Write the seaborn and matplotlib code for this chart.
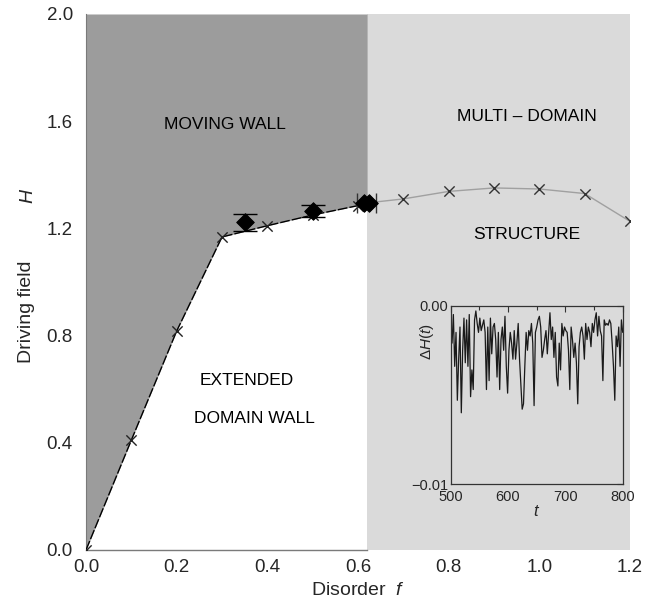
import numpy as np
import pandas as pd
import matplotlib
matplotlib.use("Agg")
import matplotlib.pyplot as plt
import seaborn as sns

# ---------------- data ----------------
f_boundary = 0.62
f_wall = [0.0, 0.1, 0.2, 0.3, 0.4, 0.5, 0.6, 0.62]
H_wall = [0.0, 0.41, 0.817, 1.168, 1.21, 1.25, 1.285, 1.295]
f_cross_wall = [0.0, 0.1, 0.2, 0.3, 0.4, 0.5, 0.6]
H_cross_wall = [0.0, 0.41, 0.817, 1.168, 1.21, 1.25, 1.285]

f_multi = [0.62, 0.7, 0.8, 0.9, 1.0, 1.1, 1.2]
H_multi = [1.295, 1.31, 1.338, 1.351, 1.347, 1.330, 1.226]

f_diam = [0.35, 0.5, 0.613, 0.625]
H_diam = [1.222, 1.265, 1.295, 1.295]
f_yerr = [0.35, 0.5]
H_yerr = [1.222, 1.265]
yerr = [0.033, 0.021]
f_xerr = [0.619]
H_xerr = [1.295]
xerr = [0.021]

x_ticks = [0.0, 0.2, 0.4, 0.6, 0.8, 1.0, 1.2]
y_ticks = [0.0, 0.4, 0.8, 1.2, 1.6, 2.0]

# inset time series (units of 1e-3)
dH_milli = [
    -0.6, -2.1, -0.5, -3.4, -1.5, -5.3, -3.0, -1.2, -6.0, -2.5, -0.7, -3.2, -0.8,
    -3.4, -0.5, -5.1, -3.6, -4.7, -0.8, -0.3, -1.0, -1.5, -0.7, -1.4, -1.1, -0.8,
    -1.5, -4.7, -1.2, -4.2, -0.7, -2.7, -1.2, -1.0, -1.9, -4.0, -1.5, -4.7, -1.9,
    -1.2, -2.5, -0.6, -3.4, -4.9, -2.5, -1.5, -2.1, -3.0, -1.4, -3.0, -2.1, -1.0,
    -3.0, -4.4, -5.8, -5.5, -3.4, -1.5, -2.5, -1.4, -1.7, -1.0, -2.1, -5.6, -1.5,
    -1.2,
    -0.8, -0.6, -1.2, -2.9, -2.5, -1.9, -1.4, -2.7, -1.5, -0.4, -1.9, -1.2, -2.9,
    -1.5, -4.0, -4.5, -2.1, -3.6, -1.0, -1.7, -1.2, -1.4, -1.5, -2.5, -4.7, -1.2,
    -1.9, -2.9, -2.1, -3.2, -5.5, -2.3, -1.5, -1.2, -1.7, -3.0, -1.0, -1.9, -1.2,
    -1.5, -2.3, -1.0, -1.5, -0.8, -0.4, -1.7, -0.6, -1.4, -1.7, -4.2, -0.8, -1.1,
    -1.0, -1.1, -0.8, -1.0, -2.1, -3.4, -5.3, -1.7, -2.3, -1.2, -3.4, -0.8, -1.5,
]
t_start, t_end = 500, 800
t_inset = np.linspace(t_start, t_end, len(dH_milli))
dH = np.array(dH_milli) * 1e-3

# ---------------- style ----------------
sns.set_style("white")
plt.rcParams["font.family"] = ["Liberation Sans", "DejaVu Sans"]
plt.rcParams["mathtext.fontset"] = "custom"
plt.rcParams["mathtext.it"] = "Liberation Sans:italic"
plt.rcParams["mathtext.rm"] = "Liberation Sans"

dark = "#9c9c9c"
light = "#dadada"

fig = plt.figure(figsize=(6.52, 6.03), dpi=100)
ax = fig.add_axes([0.1319, 0.0879, 0.8344, 0.8889])

# regions
ax.axvspan(f_boundary, 1.2, color=light, lw=0, zorder=0)
ax.fill_between(f_wall, H_wall, 2.0, color=dark, lw=0, zorder=0)

# boundary lines
df_wall = pd.DataFrame({"f": f_wall, "H": H_wall})
sns.lineplot(data=df_wall, x="f", y="H", ax=ax, color="black", lw=1.0,
             sort=False, zorder=3)
ax.lines[-1].set_dashes([7, 1.5])
df_multi = pd.DataFrame({"f": f_multi, "H": H_multi})
sns.lineplot(data=df_multi, x="f", y="H", ax=ax, color="#a0a0a0", lw=1.0,
             sort=False, zorder=3)

# crosses
df_cw = pd.DataFrame({"f": f_cross_wall, "H": H_cross_wall})
sns.scatterplot(data=df_cw, x="f", y="H", ax=ax, marker="x", s=55,
                color="#222222", linewidth=1.0, zorder=4)
df_cm = pd.DataFrame({"f": f_multi[1:], "H": H_multi[1:]})
sns.scatterplot(data=df_cm, x="f", y="H", ax=ax, marker="x", s=55,
                color="#333333", linewidth=1.0, zorder=4)

# diamonds with error bars
ax.errorbar(f_yerr, H_yerr, yerr=yerr, fmt="none", ecolor="black",
            elinewidth=1.0, capsize=8.3, capthick=1.0, zorder=5)
ax.errorbar(f_xerr, H_xerr, xerr=xerr, fmt="none", ecolor="#333333",
            elinewidth=1.0, capsize=7.5, capthick=1.0, zorder=5)
df_d = pd.DataFrame({"f": f_diam, "H": H_diam})
sns.scatterplot(data=df_d, x="f", y="H", ax=ax, marker="D", s=80,
                color="black", edgecolor="black", zorder=6)

# axes formatting
ax.set_xlim(0, 1.2)
ax.set_ylim(0, 2.0)
ax.set_xticks(x_ticks)
ax.set_yticks(y_ticks)
ax.set_xticklabels([f"{v:.1f}" for v in x_ticks], fontsize=13.5)
ax.set_yticklabels([f"{v:.1f}" for v in y_ticks], fontsize=13.5)
ax.tick_params(axis="x", length=0, pad=6.5)
ax.tick_params(axis="y", length=0, pad=9.5)
ax.set_xlabel(r"Disorder  $f$", fontsize=14, labelpad=4)
ax.set_ylabel("Driving field", fontsize=14)
ax.yaxis.set_label_coords(-0.093, 0.445)
ax.text(-0.106, 0.66, "H", transform=ax.transAxes, rotation=90,
        fontsize=14, style="italic", ha="center", va="center")
for s in ["top", "right"]:
    ax.spines[s].set_visible(False)
ax.spines["left"].set_color("#7a7a7a")
ax.spines["bottom"].set_color("#7a7a7a")
ax.spines["bottom"].set_bounds(0, f_boundary)
ax.spines["left"].set_linewidth(0.8)
ax.spines["bottom"].set_linewidth(1.0)

# region labels
kw = dict(ha="center", va="center", fontsize=12.5, color="black")
ax.text(0.3055, 1.586, "MOVING WALL", **kw)
ax.text(0.973, 1.617, "MULTI – DOMAIN", **kw)
ax.text(0.973, 1.179, "STRUCTURE", **kw)
ax.text(0.355, 0.634, "EXTENDED", **kw)
ax.text(0.371, 0.4925, "DOMAIN WALL", **kw)

# ---------------- inset ----------------
axi = fig.add_axes([0.6913, 0.1970, 0.2638, 0.2962])
axi.set_facecolor(light)
df_in = pd.DataFrame({"t": t_inset, "dH": dH})
sns.lineplot(data=df_in, x="t", y="dH", ax=axi, color="#1a1a1a", lw=0.9)
axi.set_xlim(t_start, t_end)
axi.set_ylim(-0.01, 0.0)
axi.set_xticks([500, 600, 700, 800])
axi.set_xticks([550, 650, 750], minor=True)
axi.set_yticks([-0.01, 0.0])
axi.set_yticklabels(["\u22120.01", "0.00"], fontsize=10.5)
axi.set_xticklabels(["500", "600", "700", "800"], fontsize=10.5)
axi.tick_params(which="both", direction="in", top=True, right=True,
                length=4, width=0.8, color="#333333")
axi.tick_params(axis="y", pad=2)
axi.tick_params(axis="x", pad=4)
axi.tick_params(which="minor", length=3)
for s in axi.spines.values():
    s.set_color("#333333")
    s.set_linewidth(0.9)
axi.set_xlabel(r"$t$", fontsize=12, labelpad=0)
axi.set_ylabel(r"$\Delta H(t)$", fontsize=11)
axi.yaxis.set_label_coords(-0.085, 0.8)

fig.savefig("out.png", dpi=100)
